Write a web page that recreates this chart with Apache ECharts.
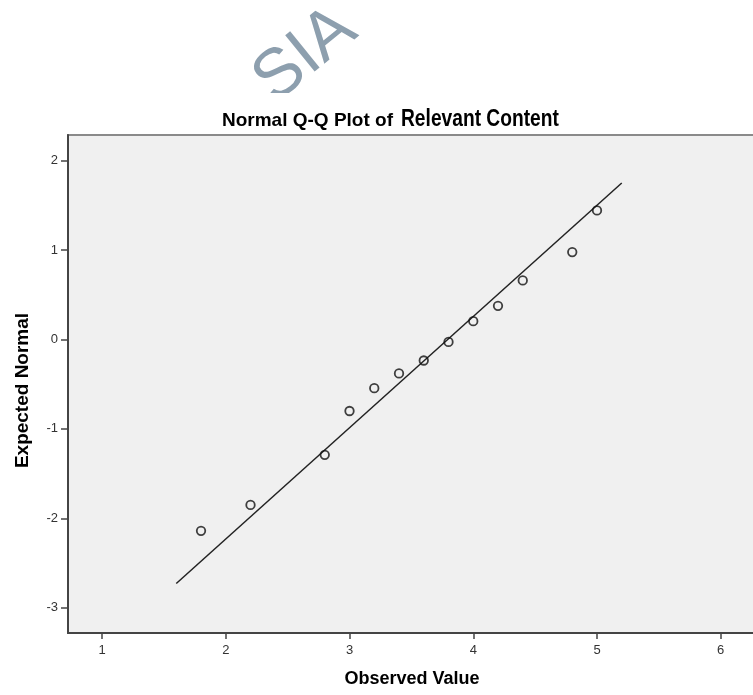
<!DOCTYPE html>
<html>
<head>
<meta charset="utf-8">
<script src="https://cdn.jsdelivr.net/npm/echarts@6/dist/echarts.min.js"></script>
<style>
html,body{margin:0;background:#fff;overflow:hidden;}
/* plot runs a bit past the right edge of the window, like the original crop */
#main{width:773px;height:695px;}
</style>
</head>
<body>
<div id="main"></div>
<script>
// observed values and their expected normal scores
var observed = [1.8, 2.2, 2.8, 3.0, 3.2, 3.4, 3.6, 3.8, 4.0, 4.2, 4.4, 4.8, 5.0];
var expected = [-2.14, -1.85, -1.29, -0.80, -0.545, -0.38, -0.235, -0.027, 0.205, 0.376, 0.66, 0.977, 1.443];
// reference line ends
var lineX = [1.6, 5.2];
var lineY = [-2.73, 1.75];
// tick labels
var xTicks = [1, 2, 3, 4, 5, 6];
var yTicks = [-3, -2, -1, 0, 1, 2];

var points = [];
for (var i = 0; i < observed.length; i++) {
	points.push([observed[i], expected[i]]);
}
var refLine = [];
for (var j = 0; j < lineX.length; j++) {
	refLine.push([lineX[j], lineY[j]]);
}

var myChart = echarts.init(document.getElementById('main'));
var labelFont = 'Liberation Sans';

var option = {
	backgroundColor: '#fff',
	animation: false,
	graphic: [
		// watermark
		{
			type: 'text',
			x: 284,
			y: 116,
			rotation: 0.68,
			style: {
				text: 'SIA',
				font: '68px Liberation Sans',
				fill: '#8d9fae',
				verticalAlign: 'bottom'
			},
			z: 1
		},
		{
			type: 'rect',
			shape: {x: 150, y: 93, width: 300, height: 16},
			style: {fill: '#fff'},
			z: 2
		},
		// title: small plain part + larger narrow part
		{
			type: 'text',
			x: 222,
			y: 121,
			style: {
				text: 'Normal Q-Q Plot of',
				font: 'bold 19px Liberation Sans',
				fill: '#000',
				verticalAlign: 'middle'
			},
			z: 3
		},
		{
			type: 'text',
			x: 401,
			y: 119.5,
			scaleX: 0.8,
			style: {
				text: 'Relevant Content',
				font: 'bold 24px Liberation Sans',
				fill: '#000',
				verticalAlign: 'middle'
			},
			z: 3
		}
	],
	grid: {
		left: 68,
		top: 135,
		right: 17,
		bottom: 62,
		show: true,
		backgroundColor: '#f0f0f0',
		borderColor: '#8a8a8a',
		borderWidth: 2
	},
	xAxis: {
		type: 'value',
		min: 0.725,
		max: 6.285,
		name: 'Observed Value',
		nameLocation: 'middle',
		nameGap: 37,
		nameTextStyle: {fontFamily: labelFont, fontWeight: 'bold', fontSize: 18, color: '#000'},
		splitLine: {show: false},
		axisLine: {onZero: false, lineStyle: {color: '#444', width: 2}},
		axisTick: {show: true, length: 6, customValues: xTicks, lineStyle: {color: '#444', width: 1.5}},
		axisLabel: {customValues: xTicks, margin: 11, fontFamily: labelFont, fontSize: 13, color: '#333'}
	},
	yAxis: {
		type: 'value',
		min: -3.283,
		max: 2.287,
		name: 'Expected Normal',
		nameLocation: 'middle',
		nameGap: 36,
		nameTextStyle: {fontFamily: labelFont, fontWeight: 'bold', fontSize: 19, color: '#000', padding: [0, 13, 0, 0]},
		splitLine: {show: false},
		axisLine: {onZero: false, lineStyle: {color: '#444', width: 2}},
		axisTick: {show: true, length: 7, customValues: yTicks, lineStyle: {color: '#444', width: 1.5}},
		axisLabel: {customValues: yTicks, margin: 10, fontFamily: labelFont, fontSize: 13, color: '#333'}
	},
	series: [
		{
			type: 'line',
			data: refLine,
			symbol: 'none',
			lineStyle: {color: '#222', width: 1.5},
			z: 2
		},
		{
			type: 'scatter',
			data: points,
			symbol: 'circle',
			symbolSize: 8.5,
			itemStyle: {color: 'rgba(0,0,0,0)', borderColor: '#111', borderWidth: 1.8},
			z: 3
		}
	]
};
myChart.setOption(option);
</script>
</body>
</html>
